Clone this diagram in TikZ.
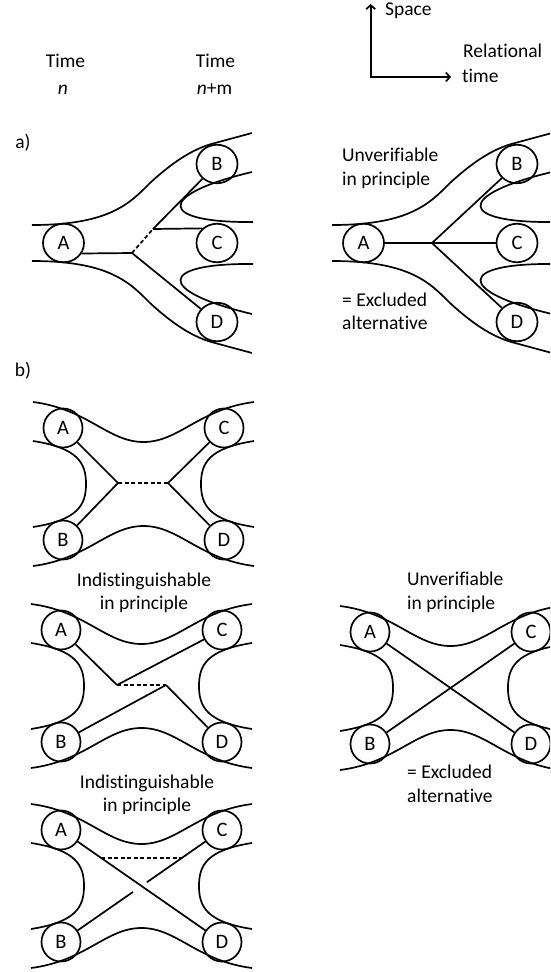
\documentclass[tikz,border=0pt]{standalone}
\usepackage{fontspec}
\setmainfont{Carlito}[Ligatures=NoCommon]
\usetikzlibrary{arrows.meta,calc,shapes.geometric}
\newcommand\bpanel[3]{%
\begin{scope}[shift={(#2,#3)}]
\node[circ] (#1A) at (0,0) {A};
\node[circ] (#1C) at (161,0) {C};
\node[circ] (#1B) at (0,112) {B};
\node[circ] (#1D) at (161,112) {D};
\draw[ln] (-30,-26) .. controls (25,-19) and (45,14) .. (80.5,14) .. controls (116,14) and (136,-19) .. (191,-26);
\draw[ln] (-30,138) .. controls (25,131) and (45,98) .. (80.5,98) .. controls (116,98) and (136,131) .. (191,138);
\draw[ln] (-30,13) .. controls (15,20) and (23,35) .. (23,56) .. controls (23,77) and (15,92) .. (-30,99);
\draw[ln] (191,13) .. controls (146,20) and (138,35) .. (138,56) .. controls (138,77) and (146,92) .. (191,99);
\end{scope}}
\newcommand\apanel[2]{%
\begin{scope}[shift={(#2,0)}]
\node[ell] (#1A) at (63.5,243) {A};
\node[ell] (#1B) at (217,164) {B};
\node[ell] (#1C) at (217,243) {C};
\node[ell] (#1D) at (217,322) {D};
\draw[ln] (32,225) .. controls (110,225) and (130,203) .. (150,183) .. controls (175,160) and (195,148) .. (215,143) -- (252,133);
\draw[ln] (32,261) .. controls (110,261) and (130,283) .. (150,303) .. controls (175,326) and (195,338) .. (215,343) -- (252,353);
\draw[ln] (252,172) .. controls (155,195) and (158,223) .. (253,222);
\draw[ln] (252,314) .. controls (155,291) and (158,263) .. (253,264);
\end{scope}}
\begin{document}
\begin{tikzpicture}[x=1pt,y=-1pt,
  ln/.style={line width=1.7pt},
  dl/.style={line width=1.7pt, dash pattern=on 4pt off 2.5pt},
  circ/.style={circle, draw, line width=1.7pt, minimum size=39pt, inner sep=0pt, font=\fontsize{20.5}{24}\selectfont},
  ell/.style={ellipse, draw, line width=1.7pt, minimum width=41pt, minimum height=38.5pt, inner sep=0pt, font=\fontsize{20.5}{24}\selectfont},
  lbl/.style={font=\fontsize{19.5}{23}\selectfont, inner sep=0pt},
  ax/.style={line width=1.7pt, {Straight Barb[length=4pt,width=9pt]}-{Straight Barb[length=4pt,width=9pt]}}
]
\useasboundingbox (0,0) rectangle (550,972);
\clip (0,0) rectangle (550,972);

% header
\node[lbl, anchor=base] (t1) at (65.5,67) {Time};
\node[lbl, anchor=base] (n1) at (63,94) {\textit{n}};
\node[lbl, anchor=base] (t2) at (215.5,67) {Time};
\node[lbl, anchor=base] (n2) at (214.5,94) {\textit{n}+m};
\coordinate (O) at (370.7,77);
\coordinate (Ytip) at (370.7,4);
\coordinate (Xtip) at (451,77);
\draw[ax] (Ytip) -- (O) -- (Xtip);
\node[lbl, anchor=base west] (sp) at (385,15) {Space};
\node[lbl, anchor=base west] (rel) at (463,57) {Relational};
\node[lbl, anchor=base west] (tm) at (462,82) {time};

% panel a
\node[lbl, anchor=base] (la) at (23,148) {a)};
\apanel{l}{0}
\coordinate (lj) at (132,253);
\coordinate (lk) at (153,229);
\draw[ln] (lA.-30) -- (lj);
\draw[ln] (lj) -- (lD);
\draw[dl] (lj) -- (lk);
\draw[ln] (lk) -- (lB);
\draw[ln] (lk) -- (lC.135);

\apanel{r}{300}
\coordinate (rj) at (432,243);
\draw[ln] (rA) -- (rj);
\draw[ln] (rj) -- (rB);
\draw[ln] (rj) -- (rC);
\draw[ln] (rj) -- (rD);
\node[lbl, anchor=base west] (u1) at (342,161) {Unverifiable};
\node[lbl, anchor=base west] (u2) at (342,185) {in principle};
\node[lbl, anchor=base west] (e1) at (342,306) {= Excluded};
\node[lbl, anchor=base west] (e2) at (342,329) {alternative};

% panel b
\node[lbl, anchor=base] (lb) at (23,376) {b)};
\bpanel{p}{63}{428}
\coordinate (pj1) at (118,483);
\coordinate (pj2) at (168,483);
\draw[ln] (pA) -- (pj1);
\draw[ln] (pj1) -- (pB);
\draw[dl] (pj1) -- (pj2);
\draw[ln] (pj2) -- (pC);
\draw[ln] (pj2) -- (pD);

\node[lbl, anchor=base] (i1) at (144,586) {Indistinguishable};
\node[lbl, anchor=base] (i2) at (144,609) {in principle};

\bpanel{q}{61}{630}
\coordinate (qj1) at (117,685);
\coordinate (qj2) at (166,685);
\draw[ln] (qA) -- (qj1);
\draw[ln] (qj1) -- (qC);
\draw[dl] (qj1) -- (qj2);
\draw[ln] (qj2) -- (qB);
\draw[ln] (qj2) -- (qD);

\node[lbl, anchor=base] (i3) at (147,788) {Indistinguishable};
\node[lbl, anchor=base] (i4) at (147,811) {in principle};

\bpanel{s}{61}{830}
\coordinate (sg1) at ($(sC)!0.466!(sB)$);
\coordinate (sg2) at ($(sC)!0.553!(sB)$);
\coordinate (sd1) at ($(sA)!0.25!(sD)$);
\coordinate (sd2) at ($(sC)!0.25!(sB)$);
\draw[ln] (sA) -- (sD);
\draw[ln] (sC) -- (sg1);
\draw[ln] (sg2) -- (sB);
\draw[dl] (sd1) -- (sd2);

\bpanel{v}{370}{632}
\draw[ln] (vA) -- (vD);
\draw[ln] (vB) -- (vC);
\node[lbl, anchor=base west] (u3) at (407,585) {Unverifiable};
\node[lbl, anchor=base west] (u4) at (407,609) {in principle};
\node[lbl, anchor=base west] (e3) at (407,778) {= Excluded};
\node[lbl, anchor=base west] (e4) at (407,802) {alternative};
\end{tikzpicture}
\end{document}
